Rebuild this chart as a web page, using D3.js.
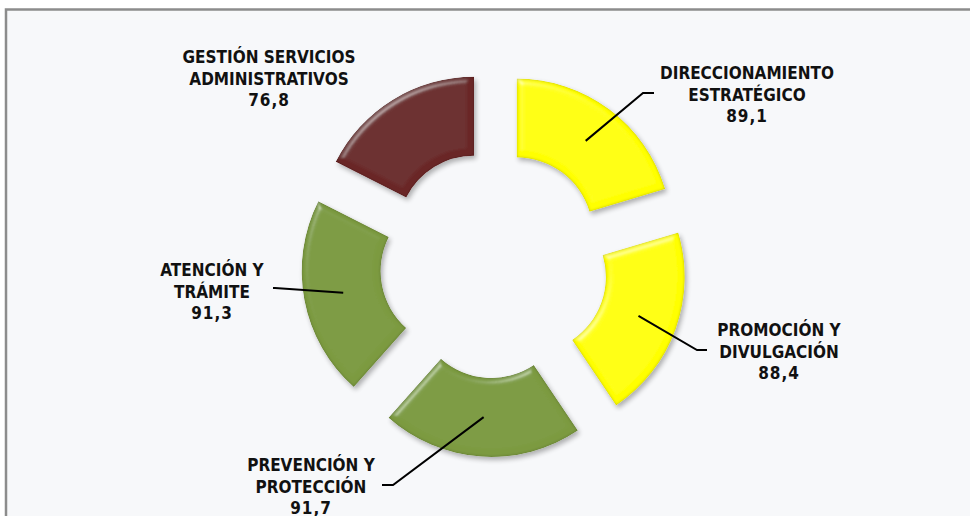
<!DOCTYPE html>
<html>
<head>
<meta charset="utf-8">
<script src="https://cdn.jsdelivr.net/npm/d3@7"></script>
<style>
  body { margin: 0; background: #ffffff; }
  svg { display: block; }
  .lbl { font-family: "DejaVu Sans Condensed", "DejaVu Sans", sans-serif; font-weight: bold; font-size: 17px; fill: #111; }
</style>
</head>
<body>
<svg id="chart" width="970" height="516"></svg>
<script>
// data
let categories = [
    ["DIRECCIONAMIENTO", "ESTRATÉGICO"],
    ["PROMOCIÓN Y", "DIVULGACIÓN"],
    ["PREVENCIÓN Y", "PROTECCIÓN"],
    ["ATENCIÓN Y", "TRÁMITE"],
    ["GESTIÓN SERVICIOS", "ADMINISTRATIVOS"]
];
let values = [89.1, 88.4, 91.7, 91.3, 76.8];
let valueLabels = ["89,1", "88,4", "91,7", "91,3", "76,8"];
let colors = ["#ffff00", "#ffff00", "#7b9a3f", "#7b9a3f", "#6a2828"];

// label layout (text center x, first line baseline, leader elbow and end)
let labelLayout = [
    {x: 747, y: 79,  elbow: [643, 93],  end: [654, 93]},
    {x: 779, y: 336, elbow: [697, 350], end: [707, 350]},
    {x: 311, y: 471, elbow: [393, 485], end: [382, 485]},
    {x: 212, y: 276, elbow: [275, 288], end: [273, 288]},
    {x: 269, y: 63,  elbow: null, end: null}
];

function PieChart() {
    let cx = 494, cy = 264;
    let outerR = 155, innerR = 76, explode = 38;
    let lineH = 21.5;

    function addBevel(defs) {
        let f = defs.append("filter").attr("id", "bevel")
            .attr("x", "-10%").attr("y", "-10%").attr("width", "130%").attr("height", "130%");
        f.append("feGaussianBlur").attr("in", "SourceAlpha").attr("stdDeviation", 3).attr("result", "blur");
        // highlight from the top-left
        let spec = f.append("feSpecularLighting").attr("in", "blur")
            .attr("surfaceScale", 5).attr("specularConstant", 0.6)
            .attr("specularExponent", 22).attr("lighting-color", "#ffffff")
            .attr("result", "spec");
        spec.append("feDistantLight").attr("azimuth", 235).attr("elevation", 28);
        f.append("feComposite").attr("in", "spec").attr("in2", "SourceAlpha")
            .attr("operator", "in").attr("result", "specIn");
        // dark rim along the edges
        f.append("feGaussianBlur").attr("in", "SourceAlpha").attr("stdDeviation", 1.6).attr("result", "blur2");
        f.append("feComposite").attr("in", "SourceAlpha").attr("in2", "blur2")
            .attr("operator", "arithmetic").attr("k1", -1).attr("k2", 1).attr("k3", 0).attr("k4", 0)
            .attr("result", "edge");
        f.append("feFlood").attr("flood-color", "#000").attr("flood-opacity", 0.55).attr("result", "dark");
        f.append("feComposite").attr("in", "dark").attr("in2", "edge").attr("operator", "in").attr("result", "rim");
        f.append("feComposite").attr("in", "SourceGraphic").attr("in2", "specIn")
            .attr("operator", "arithmetic").attr("k1", 0).attr("k2", 1).attr("k3", 0.45).attr("k4", 0)
            .attr("result", "lit");
        f.append("feComposite").attr("in", "rim").attr("in2", "lit").attr("operator", "over").attr("result", "lit2");
        f.append("feComposite").attr("in", "lit2").attr("in2", "SourceAlpha").attr("operator", "in").attr("result", "body");
        // soft shadow
        f.append("feOffset").attr("in", "SourceAlpha").attr("dx", 2).attr("dy", 3).attr("result", "off");
        f.append("feGaussianBlur").attr("in", "off").attr("stdDeviation", 2.5).attr("result", "sh");
        f.append("feComponentTransfer").attr("in", "sh").attr("result", "shadow")
            .append("feFuncA").attr("type", "linear").attr("slope", 0.3);
        let merge = f.append("feMerge");
        merge.append("feMergeNode").attr("in", "shadow");
        merge.append("feMergeNode").attr("in", "body");
    }

    function draw() {
        let svg = d3.select('#chart');

        // frame
        svg.append("rect")
            .attr("x", 0).attr("y", 0).attr("width", 970).attr("height", 516)
            .attr("fill", "#ffffff");
        svg.append("rect")
            .attr("x", 6).attr("y", 9.5).attr("width", 980).attr("height", 520)
            .attr("fill", "#f7f8fa")
            .attr("stroke", "#8c8c8c").attr("stroke-width", 2.5);

        addBevel(svg.append("defs"));

        let pie = d3.pie().sort(null).value(d => d);
        let arcs = pie(values);
        let arc = d3.arc().innerRadius(innerR).outerRadius(outerR);

        let g = svg.append("g").attr("transform", "translate(" + cx + "," + cy + ")");

        let slices = g.selectAll("g.slice").data(arcs).enter().append("g")
            .attr("class", "slice")
            .attr("transform", function (d) {
                let a = (d.startAngle + d.endAngle) / 2;
                return "translate(" + (Math.sin(a) * explode) + "," + (-Math.cos(a) * explode) + ")";
            });

        slices.append("path")
            .attr("d", arc)
            .attr("fill", (d, i) => colors[i])
            .attr("filter", "url(#bevel)");

        // leader lines
        arcs.forEach(function (d, i) {
            let lay = labelLayout[i];
            if (!lay.elbow) return;
            let a = (d.startAngle + d.endAngle) / 2;
            let c = arc.centroid(d);
            let px = cx + c[0] + Math.sin(a) * explode;
            let py = cy + c[1] - Math.cos(a) * explode;
            svg.append("path")
                .attr("d", d3.line()([[px, py], lay.elbow, lay.end]))
                .attr("fill", "none")
                .attr("stroke", "#000")
                .attr("stroke-width", 2);
        });

        // labels
        categories.forEach(function (lines, i) {
            let lay = labelLayout[i];
            let t = svg.append("text").attr("class", "lbl")
                .attr("text-anchor", "middle");
            lines.concat([valueLabels[i]]).forEach(function (s, j) {
                t.append("tspan")
                    .attr("x", lay.x)
                    .attr("y", lay.y + j * lineH)
                    .attr("letter-spacing", j == 2 ? "1px" : null)
                    .text(s);
            });
        });
    }

    return { draw };
}

PieChart().draw();
</script>
</body>
</html>
